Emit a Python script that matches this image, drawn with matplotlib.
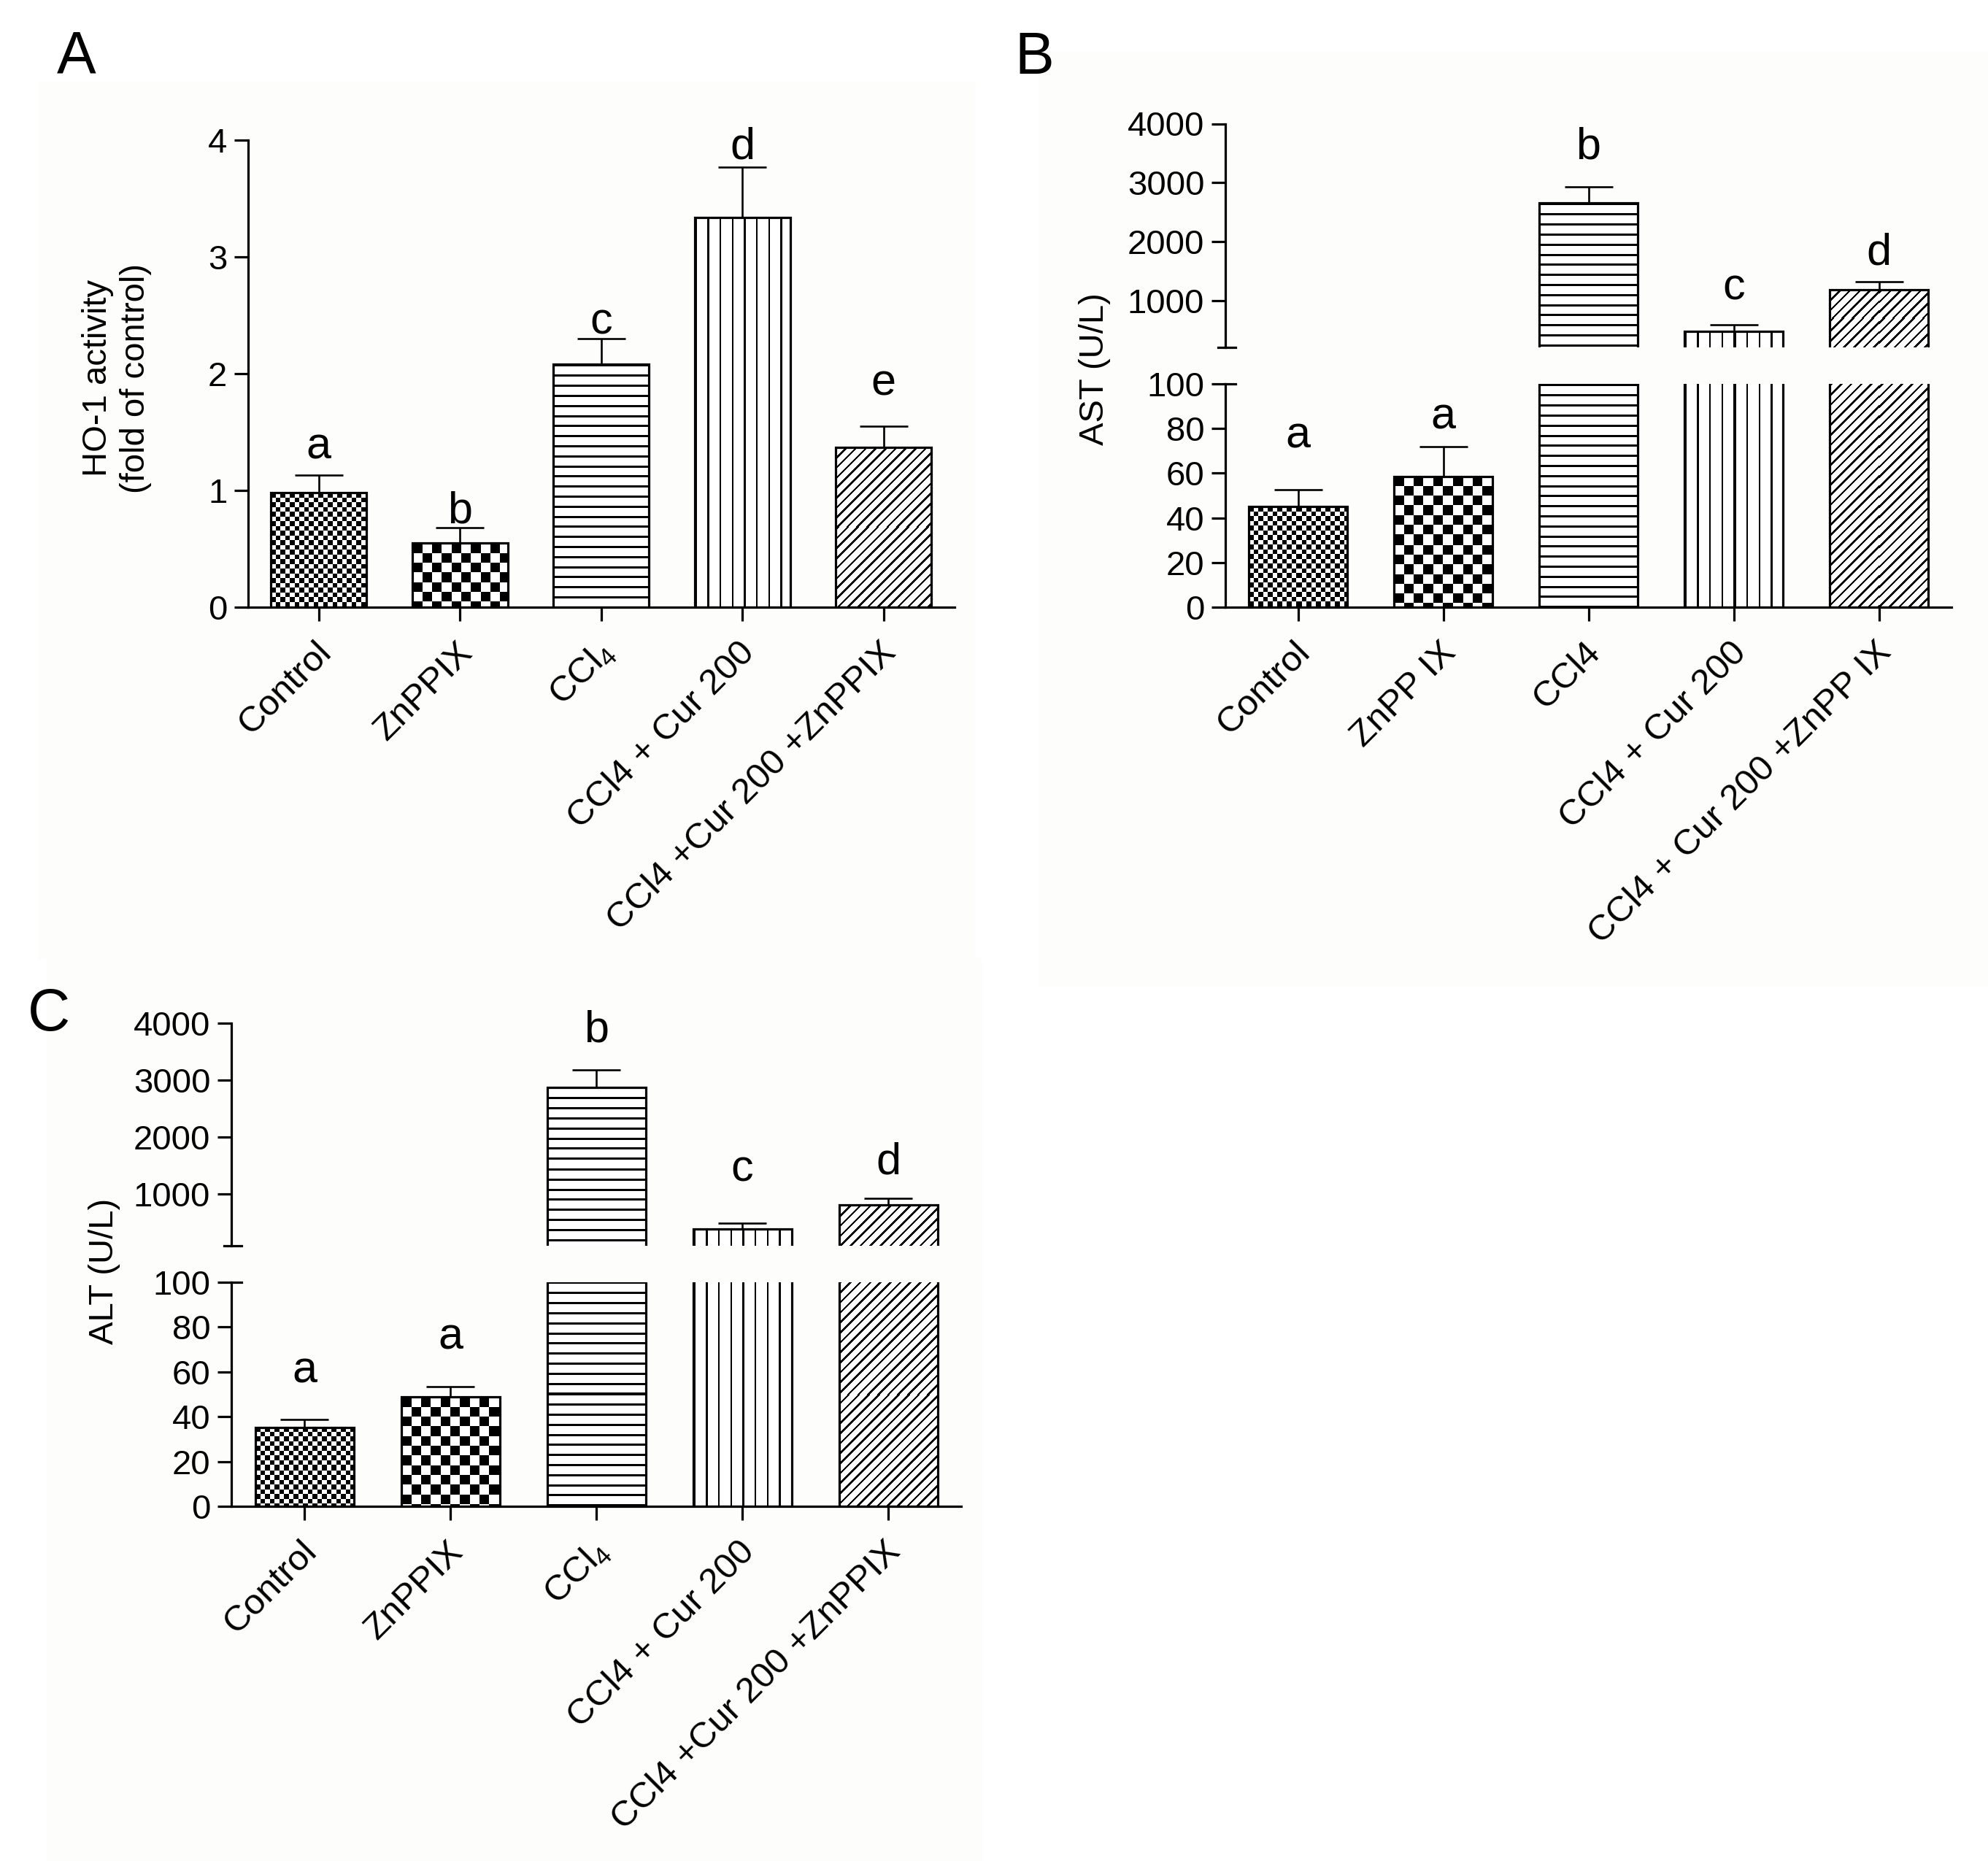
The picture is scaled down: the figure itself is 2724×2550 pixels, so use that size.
import numpy as np
import matplotlib
matplotlib.use('Agg')
import matplotlib.pyplot as plt
import matplotlib.transforms as mtransforms
from matplotlib.patches import Rectangle
from matplotlib.lines import Line2D

plt.rcParams['font.family'] = ['Liberation Sans', 'DejaVu Sans']
plt.rcParams['mathtext.fontset'] = 'custom'
plt.rcParams['mathtext.rm'] = 'Liberation Sans'

# data
groups_ac = ['Control', 'ZnPPIX', r'CCl$_{\mathregular{4}}$', 'CCl4 + Cur 200', 'CCl4 +Cur 200 +ZnPPIX']
groups_b = ['Control', 'ZnPP IX', 'CCl4', 'CCl4 + Cur 200', 'CCl4 + Cur 200 +ZnPP IX']

ho1_mean = [0.98, 0.55, 2.08, 3.34, 1.37]
ho1_err = [0.15, 0.13, 0.22, 0.43, 0.18]
ho1_letters = ['a', 'b', 'c', 'd', 'e']

ast_mean = [45, 58.5, 2650, 476, 1180]
ast_err = [7.5, 13.3, 275, 116, 141]
ast_letters = ['a', 'a', 'b', 'c', 'd']

alt_mean = [35.2, 48.7, 2870, 385, 800]
alt_err = [3.6, 4.7, 310, 100, 120]
alt_letters = ['a', 'a', 'b', 'c', 'd']

# gap between error cap and letter (px)
ho1_gap = [23, 7, 6, 11, 43]
ast_gap = [58, 25, 39, 34, 23]
alt_gap = [50, 51, 38, 58, 34]

patterns = ['fine', 'checker', 'hlines', 'vlines', 'diag']

W, H = 2724, 2550
DPI = 100
LW = 2.3
TICK_FS = 34
XLAB_FS = 35.5
LETTER_FS = 44

fig = plt.figure(figsize=(W / DPI, H / DPI), dpi=DPI)


def box(x, y, w, h):
    # pixel box (top-left origin) -> figure fraction
    return [x / W, 1 - (y + h) / H, w / W, h / H]


def texture(kind, h, w):
    i, j = np.mgrid[0:h, 0:w].astype(float)
    if kind == 'fine':
        m = ((i // 6.5 + j // 6.5) % 2 == 0)
    elif kind == 'checker':
        m = ((i // 13.3 + j // 13.3) % 2 == 0)
    elif kind == 'hlines':
        m = np.mod(i, 13.8) < 3
    elif kind == 'vlines':
        m = np.mod(j, 16.7) < 2.5
    else:
        m = np.mod(i + j, 13.7) < 3.6
    return m.astype(float)


def style(ax):
    for s in ['top', 'right']:
        ax.spines[s].set_visible(False)
    for s in ['left', 'bottom']:
        ax.spines[s].set_linewidth(LW)
    ax.tick_params(width=LW, length=13.7, labelsize=TICK_FS, pad=7, color='black')
    ax.patch.set_alpha(0)


def draw_bars(ax, means, errs, ylim):
    x = np.arange(len(means))
    ax.set_xlim(-0.5, 4.5)
    ax.set_ylim(*ylim)
    bars = ax.bar(x, means, width=0.675, facecolor='none', edgecolor='black',
                  linewidth=LW, zorder=3)
    for b, kind in zip(bars, patterns):
        y0 = max(b.get_y(), ylim[0])
        y1 = min(b.get_y() + b.get_height(), ylim[1])
        if y1 <= y0:
            continue
        x0 = b.get_x()
        x1 = x0 + b.get_width()
        (px0, py0), (px1, py1) = ax.transData.transform([(x0, y0), (x1, y1)])
        tw = max(int(round(px1 - px0)), 1)
        th = max(int(round(py1 - py0)), 1)
        ax.imshow(texture(kind, th, tw), extent=(x0, x1, y0, y1), cmap='gray_r',
                  vmin=0, vmax=1, interpolation='nearest', aspect='auto', zorder=2)
    ax.errorbar(x, means, yerr=[np.zeros(len(means)), errs], fmt='none',
                ecolor='black', elinewidth=1.9, capsize=24, capthick=1.9, zorder=4)
    ax.set_xlim(-0.5, 4.5)
    ax.set_ylim(*ylim)
    return x


def set_xlabels(ax, x, labels):
    ax.set_xticks(x)
    ax.set_xticklabels(labels, rotation=45, ha='right', va='center',
                       rotation_mode='anchor', fontsize=XLAB_FS)
    ax.tick_params(axis='x', pad=26)
    shift = mtransforms.ScaledTranslation(0.1, 0, fig.dpi_scale_trans)
    for t in ax.get_xticklabels():
        t.set_transform(t.get_transform() + shift)


def letters(ax_lo, ax_hi, means, errs, labs, gaps, split):
    for xi, m, e, lab, g in zip(range(len(means)), means, errs, labs, gaps):
        ax = ax_lo if (ax_hi is None or m + e <= split) else ax_hi
        ax.annotate(lab, (xi, m + e), xytext=(0, g * 0.72), textcoords='offset points',
                    ha='center', va='baseline', fontsize=LETTER_FS)


def broken_panel(left_px, w_px, lo_box, hi_box, means, errs, labs, gaps, labels, hi_min):
    ax_lo = fig.add_axes(box(left_px, lo_box[0], w_px, lo_box[1]))
    ax_hi = fig.add_axes(box(left_px, hi_box[0], w_px, hi_box[1]))
    style(ax_lo)
    style(ax_hi)
    x = draw_bars(ax_lo, means, errs, (0, 100))
    draw_bars(ax_hi, means, errs, (hi_min, 4000))
    ax_lo.set_yticks([0, 20, 40, 60, 80, 100])
    set_xlabels(ax_lo, x, labels)
    ax_hi.set_yticks([1000, 2000, 3000, 4000])
    ax_hi.spines['bottom'].set_visible(False)
    ax_hi.set_xticks([])
    # break marks
    ax_hi.add_line(Line2D([-10 / w_px, 14 / w_px], [0, 0], transform=ax_hi.transAxes,
                          color='black', lw=LW, clip_on=False))
    ax_lo.add_line(Line2D([0, 14 / w_px], [1, 1], transform=ax_lo.transAxes,
                          color='black', lw=LW, clip_on=False))
    letters(ax_lo, ax_hi, means, errs, labs, gaps, 100)


# faint panel backgrounds
for bx, by, bw, bh in [(52, 113, 1284, 1200), (1423, 70, 1301, 1280), (65, 1313, 1280, 1237)]:
    fig.add_artist(Rectangle((bx / W, 1 - (by + bh) / H), bw / W, bh / H,
                             transform=fig.transFigure, color='#fdfdfb', zorder=0))

# panel A
axA = fig.add_axes(box(340, 192, 967.5, 640))
style(axA)
xa = draw_bars(axA, ho1_mean, ho1_err, (0, 4))
axA.set_yticks([0, 1, 2, 3, 4])
set_xlabels(axA, xa, groups_ac)
letters(axA, None, ho1_mean, ho1_err, ho1_letters, ho1_gap, None)

# panel B
broken_panel(1679, 995, (526, 306), (169.5, 306.8), ast_mean, ast_err,
             ast_letters, ast_gap, groups_b, 200)

# panel C
broken_panel(317, 1000, (1756.7, 307.3), (1401.7, 305.6), alt_mean, alt_err,
             alt_letters, alt_gap, groups_ac, 85)

# axis titles
fig.text(160 / W, 1 - 518 / H, 'HO-1 activity\n(fold of control)', rotation=90,
         ha='center', va='center', fontsize=34, linespacing=1.25, multialignment='center')
fig.text(1500 / W, 1 - 506 / H, 'AST (U/L)', rotation=90, ha='center', va='center', fontsize=34)
fig.text(143 / W, 1 - 1742 / H, 'ALT (U/L)', rotation=90, ha='center', va='center', fontsize=34)

# panel letters
for lab, px, py in [('A', 105, 99), ('B', 1417, 101), ('C', 67, 1412)]:
    fig.text(px / W, 1 - py / H, lab, ha='center', va='baseline', fontsize=58)

fig.savefig('out.png', dpi=DPI, facecolor='white')
